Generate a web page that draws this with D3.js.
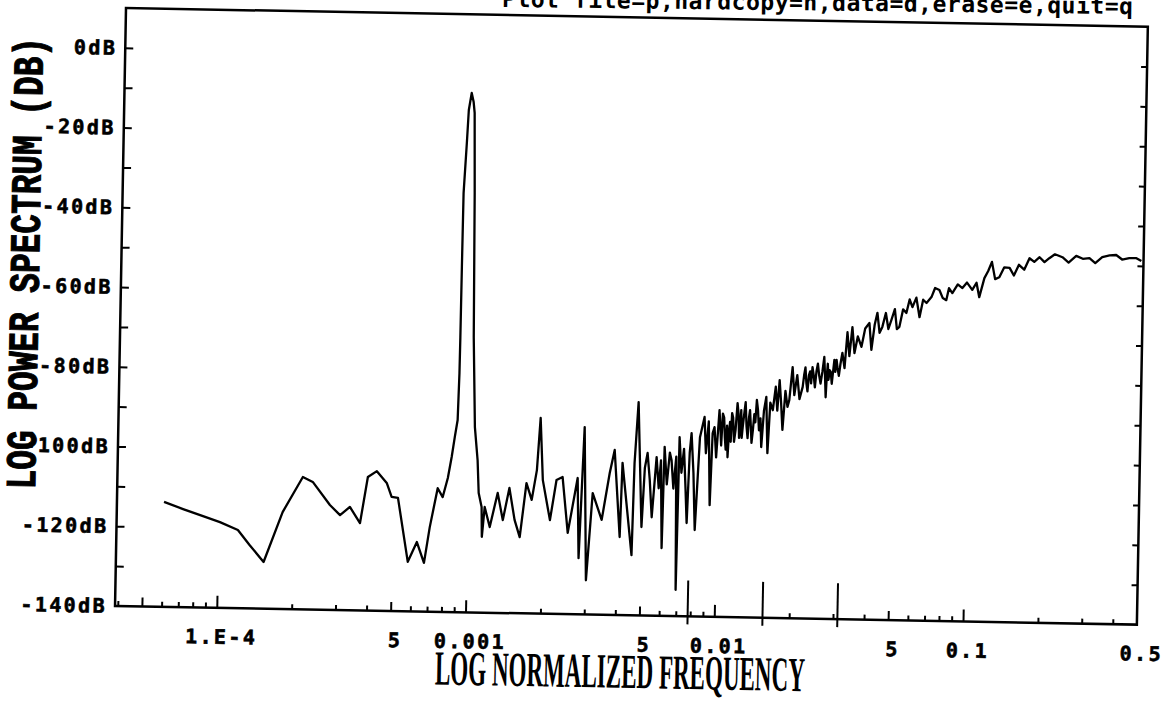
<!DOCTYPE html>
<html>
<head lang="en">
    <meta charset="UTF-8">
    <title>Log power spectrum</title>
    <script src="https://cdn.jsdelivr.net/npm/d3@7"></script>
    <style>
        body{margin:0;background:#fff;}
    </style>
</head>
<body>
</body>
</html>
<script>
    // spectrum: normalized frequency and level in dB, in four stretches
    var lowFreq=[
        6.03e-5,7.2e-5,8.67e-5,1.015e-4,1.2e-4,1.34e-4,1.53e-4,1.81e-4,2.17e-4,2.38e-4,
        2.8e-4,3.08e-4,3.37e-4,3.71e-4,3.96e-4,4.3e-4,4.72e-4,4.95e-4,5.25e-4,5.81e-4,
        6.3e-4,6.75e-4,7.08e-4,7.57e-4,7.94e-4,8.3e-4
    ];
    var lowDb=[
        -113.7,-115.4,-117.1,-118.5,-120.4,-124.1,-128.3,-115.7,-106.8,-108.0,
        -113.7,-116.2,-114.1,-118.1,-106.5,-105.0,-107.9,-111.4,-111.6,-127.6,
        -122.6,-127.8,-118.8,-109.0,-111.2,-106.4
    ];
    var peakFreq=[
        8.57e-4,8.79e-4,9.0e-4,9.08e-4,9.1e-4,9.12e-4,9.15e-4,9.35e-4,9.47e-4,9.7e-4,
        9.89e-4,1.0e-3,1.014e-3,1.03e-3,1.057e-3,1.09e-3,1.107e-3,1.14e-3
    ];
    var peakDb=[
        -101.1,-96.1,-91.8,-80.0,-71.0,-53.4,-34.8,-22.3,-14.0,-9.7,
        -12.0,-14.7,-34.8,-70.9,-93.5,-101.8,-110.0,-113.5
    ];
    var floorFreq=[
        1.148e-3,1.173e-3,1.233e-3,1.32e-3,1.39e-3,1.47e-3,1.55e-3,1.63e-3,1.72e-3,1.81e-3,
        1.89e-3,1.94e-3,2.0e-3,2.15e-3,2.27e-3,2.4e-3,2.54e-3,2.76e-3,2.82e-3,2.92e-3,
        3.03e-3,3.18e-3,3.47e-3,3.71e-3,3.87e-3,4.11e-3,4.17e-3,4.6e-3,4.66e-3,4.79e-3,
        5.02e-3,5.13e-3,5.25e-3,5.38e-3,5.51e-3,5.71e-3,5.85e-3,5.95e-3,6.07e-3,6.14e-3,
        6.3e-3,6.45e-3,6.56e-3,6.7e-3,6.85e-3,6.96e-3,7.04e-3,7.2e-3,7.35e-3,7.5e-3,
        7.62e-3,7.75e-3,7.86e-3,8.05e-3,8.22e-3,8.5e-3,8.84e-3,9.0e-3,9.2e-3,9.4e-3,
        9.55e-3,9.71e-3,9.9e-3
    ];
    var floorDb=[
        -121.0,-113.5,-118.5,-109.9,-116.7,-108.6,-116.6,-120.9,-107.3,-111.5,
        -104.0,-90.9,-106.5,-116.5,-106.4,-105.6,-119.6,-105.8,-125.9,-93.0,
        -131.4,-109.5,-116.2,-104.4,-98.6,-120.4,-101.8,-124.9,-101.8,-86.5,
        -117.8,-103,-99.2,-106,-115.3,-100.2,-108,-101,-123.0,-97.6,
        -107,-99,-100.9,-108,-100,-133.4,-95.1,-104,-98,-108,
        -116.6,-99,-94.0,-104,-118.3,-95,-89.9,-99,-91,-112.0,
        -94,-92.4,-100
    ];
    var riseFreq=[
        1.014e-2,1.024e-2,1.035e-2,1.047e-2,1.06e-2,1.07e-2,1.08e-2,1.09e-2,1.1e-2,1.11e-2,
        1.12e-2,1.13e-2,1.14e-2,1.152e-2,1.165e-2,1.18e-2,1.197e-2,1.21e-2,1.22e-2,1.23e-2,
        1.24e-2,1.25e-2,1.26e-2,1.275e-2,1.29e-2,1.305e-2,1.32e-2,1.333e-2,1.345e-2,1.358e-2,
        1.37e-2,1.385e-2,1.40e-2,1.415e-2,1.43e-2,1.448e-2,1.465e-2,1.483e-2,1.5e-2,1.53e-2,
        1.56e-2,1.59e-2,1.62e-2,1.66e-2,1.70e-2,1.73e-2,1.76e-2,1.79e-2,1.82e-2,1.86e-2,
        1.90e-2,1.93e-2,1.98e-2,2.02e-2,2.07e-2,2.12e-2,2.18e-2,2.205e-2,2.23e-2,2.255e-2,
        2.28e-2,2.305e-2,2.33e-2,2.355e-2,2.38e-2,2.41e-2,2.44e-2,2.47e-2,2.5e-2,2.535e-2,
        2.57e-2,2.61e-2,2.65e-2,2.675e-2,2.7e-2,2.72e-2,2.74e-2,2.765e-2,2.79e-2,2.82e-2,
        2.85e-2,2.88e-2,2.91e-2,2.94e-2,2.97e-2,3.0e-2,3.04e-2,3.08e-2,3.13e-2,3.2e-2,
        3.27e-2,3.34e-2,3.42e-2,3.5e-2,3.6e-2,3.73e-2,3.85e-2,4.0e-2,4.09e-2,4.2e-2,
        4.3e-2,4.4e-2,4.51e-2,4.65e-2,4.77e-2,4.9e-2,5.05e-2,5.16e-2,5.28e-2,5.45e-2,
        5.62e-2,5.78e-2,5.94e-2,6.15e-2,6.35e-2,6.55e-2,6.76e-2,7.07e-2,7.3e-2,7.6e-2,
        7.85e-2,8.11e-2,8.3e-2,8.57e-2,9.0e-2,9.4e-2,9.8e-2,0.103,0.107,0.110,
        0.115,0.119,0.123,0.127,0.132,0.138,0.145,0.151,0.158,0.166,
        0.174,0.182,0.191,0.2,0.209,0.22,0.236,0.25,0.268,0.285,
        0.303,0.32,0.341,0.365,0.388,0.41,0.438,0.468,0.49
    ];
    var riseDb=[
        -88.1,-92,-97,-89,-90,-95,-98,-92,-99.9,-94,
        -91,-96,-88.8,-90,-96,-93,-86.3,-89,-95,-93,
        -88,-95,-92.3,-89,-86,-92,-95,-90,-88,-92,
        -96.2,-93,-89,-91,-85.4,-88,-93,-90,-97.2,-88,
        -84.6,-98.7,-86,-87.9,-82,-88,-80.3,-86,-92.8,-83,
        -87,-85.3,-77.0,-84,-79,-85,-81.9,-79,-77,-81,
        -83,-79,-78,-81,-76.9,-79,-82,-78,-76,-79,
        -81,-78,-74.3,-79,-84.4,-79,-76,-80,-77.6,-78,
        -81,-78,-75,-78,-75.0,-77,-79,-76,-73.2,-77,
        -68.0,-74,-66.7,-73.2,-69,-71.6,-67,-65.6,-72.3,-66,
        -63.0,-68,-66.5,-63,-67,-64.7,-62,-67,-66.4,-62,
        -62.9,-59.5,-61.4,-59,-63.9,-59.5,-60.3,-58.8,-56.5,-57.0,
        -59,-59.5,-56.5,-57.7,-55.5,-56.4,-55,-56.8,-55,-58.6,
        -53.8,-52,-49.7,-54,-53.5,-51,-51.1,-53,-50.3,-51.5,
        -48.6,-49.5,-48.3,-49.5,-48.5,-47.5,-48.2,-49.5,-47.8,-48.5,
        -48.3,-49.5,-48.0,-47.5,-47.4,-48.5,-48.1,-48.1,-48.8
    ];
    var yTickValues=[0,-20,-40,-60,-80,-100,-120,-140];
    var yTickLabels=["0dB","-20dB","-40dB","-60dB","-80dB","-100dB","-120dB","-140dB"];
    var xTickValues=[1e-4,5e-4,0.001,0.005,0.01,0.05,0.1,0.5];
    var xTickLabels=["1.E-4","5","0.001","5","0.01","5","0.1","0.5"];
    var markers=[0.0078125,0.015625,0.03125];
    var title="Plot file=p,hardcopy=h,data=d,erase=e,quit=q";
    var yTitle="LOG POWER SPECTRUM (DB)";
    var xTitle="LOG NORMALIZED FREQUENCY";

    var freq=lowFreq.concat(peakFreq,floorFreq,riseFreq);
    var db=lowDb.concat(peakDb,floorDb,riseDb);

    var W=1022,H=598;
    var _x=d3.scaleLog().domain([3.9e-5,0.5]).range([0,W]);
    var _y=d3.scaleLinear().domain([-140,10]).range([H,0]);

    var _svg=d3.select('body')
            .append('svg')
            .attr('width',1168)
            .attr('height',702);
    // the scanned sheet sits a little skewed
    var _g=_svg.append('g')
            .attr('transform','translate(126,8) rotate(1.05)');

    var monoFont='"DejaVu Sans Mono",monospace';

    // ticks on the log axis: 1..9 per decade, 1 tall, 5 medium
    var _short=[],_mid=[],_tall=[];
    [1e-5,1e-4,1e-3,1e-2,1e-1].forEach(function(d){
        for(var m=1;m<=9;m++){
            var f=m*d;
            if(f<3.9e-5||f>=0.5) continue;
            if(m==1) _tall.push(f);
            else if(m==5) _mid.push(f);
            else _short.push(f);
        }
    });
    [[_short,5],[_mid,9],[_tall,12]].forEach(function(t){
        _g.append('g')
                .attr('class','xtick')
                .attr('transform','translate(0,'+H+')')
                .call(d3.axisBottom(_x).tickValues(t[0]).tickSize(-t[1]).tickFormat(''));
    });
    _g.append('g')
            .attr('class','yleft')
            .call(d3.axisLeft(_y).tickValues(d3.range(-130,10,10)).tickSize(-8).tickFormat(''));
    _g.append('g')
            .attr('class','yright')
            .attr('transform','translate('+W+',0)')
            .call(d3.axisRight(_y).tickValues(d3.range(-130,10,10)).tickSize(-6).tickFormat(''));
    _g.selectAll('.domain').remove();
    _g.selectAll('.tick text').remove();
    _g.selectAll('.tick line')
            .attr('stroke','#000')
            .attr('stroke-width',2);

    // frame
    _g.append('rect')
            .attr('x',0)
            .attr('y',0)
            .attr('width',W)
            .attr('height',H)
            .attr('fill','none')
            .attr('stroke','#000')
            .attr('stroke-width',2.5);

    // y labels
    _g.selectAll('.ytext')
            .data(yTickValues)
            .enter()
            .append('text')
            .attr('class','ytext')
            .attr('x',-8)
            .attr('y',function(d){return _y(d);})
            .attr('text-anchor','end')
            .attr('dominant-baseline','central')
            .attr('font-family',monoFont)
            .attr('font-weight','bold')
            .attr('font-size',20)
            .attr('letter-spacing',2.4)
            .attr('stroke','#000')
            .attr('stroke-width',0.6)
            .text(function(d,i){return yTickLabels[i];});

    // x labels
    _g.selectAll('.xtext')
            .data(xTickValues)
            .enter()
            .append('text')
            .attr('class','xtext')
            .attr('x',function(d){return _x(d)+5;})
            .attr('y',H+29)
            .attr('text-anchor','middle')
            .attr('dominant-baseline','central')
            .attr('font-family',monoFont)
            .attr('font-weight','bold')
            .attr('font-size',20)
            .attr('letter-spacing',2.4)
            .attr('stroke','#000')
            .attr('stroke-width',0.6)
            .text(function(d,i){return xTickLabels[i];});

    // cursor marks
    _g.selectAll('.marker')
            .data(markers)
            .enter()
            .append('line')
            .attr('class','marker')
            .attr('x1',function(d){return _x(d);})
            .attr('x2',function(d){return _x(d);})
            .attr('y1',_y(-131))
            .attr('y2',_y(-142))
            .attr('stroke','#000')
            .attr('stroke-width',2);

    // spectrum
    var _line=d3.line()
            .x(function(d){return _x(d[0]);})
            .y(function(d){return _y(d[1]);});
    _g.append('path')
            .datum(d3.zip(freq,db))
            .attr('d',_line)
            .attr('fill','none')
            .attr('stroke','#000')
            .attr('stroke-width',2.3)
            .attr('stroke-linejoin','round');

    // titles
    _g.append('text')
            .attr('x',376)
            .attr('y',-8)
            .attr('transform','rotate(-0.4,376,-8)')
            .attr('font-family',monoFont)
            .attr('font-weight','bold')
            .attr('font-size',23)
            .attr('letter-spacing',0.5)
            .text(title);
    _g.append('text')
            .attr('transform','translate(-94,257) rotate(-90) scale(1,1.3)')
            .attr('text-anchor','middle')
            .attr('dominant-baseline','central')
            .attr('font-family','"Liberation Mono",monospace')
            .attr('font-weight','bold')
            .attr('font-size',32.8)
            .attr('stroke','#000')
            .attr('stroke-width',0.8)
            .text(yTitle);
    _g.append('text')
            .attr('transform','translate(506,654) scale(0.64,1.36)')
            .attr('text-anchor','middle')
            .attr('dominant-baseline','central')
            .attr('font-family','"Liberation Serif",serif')
            .attr('font-weight','bold')
            .attr('font-size',36)
            .text(xTitle);
</script>
